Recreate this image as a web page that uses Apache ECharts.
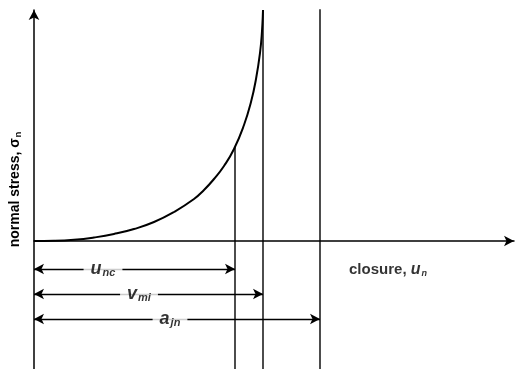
<!DOCTYPE html>
<html>
<head>
<meta charset="utf-8">
<script src="https://cdn.jsdelivr.net/npm/echarts@6/dist/echarts.min.js"></script>
<style>
    * { margin: 0; padding: 0; }
    html, body { background: #fff; }
</style>
</head>
<body>
<!--图表容器-->
<div id="closureChart" style="width: 515px;height: 369px;"></div>
<script>
    // closure u (abscissa) and normal stress (ordinate), schematic units
    var curveU     = [0, 20, 40, 60, 80, 100, 120, 140, 160, 170, 180, 190, 200, 210, 217, 222, 226, 228, 229];
    var curveSigma = [0, 0.2, 1.2, 3.5, 7, 12, 19, 29, 42, 51, 62, 75, 92, 116, 139, 162, 188, 210, 231];

    var uNc = 201, vMi = 229, aJn = 286;   // vertical reference lines
    var vertTops = [94, 231, 233];
    var dimNames  = ['nc', 'mi', 'jn'];
    var dimMain   = ['u', 'v', 'a'];
    var dimEnds   = [uNc, vMi, aJn];
    var dimLevels = [-28, -53, -78];
    var dimLabelU = [69, 105, 136];

    var axisMin = -128, axisMax = 231;

    var chart = echarts.init(document.getElementById('closureChart'));

    var curveData = curveU.map(function (u, i) { return [u, curveSigma[i]]; });

    var vertSeries = dimEnds.map(function (u, i) {
        return {
            type: 'line',
            data: [[u, axisMin], [u, vertTops[i]]],
            symbol: 'none',
            lineStyle: { color: '#000', width: 1.4 },
            z: 3
        };
    });

    var dimLines = dimEnds.map(function (u, i) {
        return [{ coord: [0, dimLevels[i]] }, { coord: [u, dimLevels[i]] }];
    });

    var dimLabels = dimEnds.map(function (u, i) {
        return {
            value: [dimLabelU[i], dimLevels[i]],
            label: {
                show: true,
                formatter: '{m|' + dimMain[i] + '}{s|' + dimNames[i] + '}'
            }
        };
    });

    chart.setOption({
        animation: false,
        grid: { left: 34, right: 1, top: 10, bottom: 0 },
        xAxis: {
            type: 'value',
            min: 0,
            max: 480,
            axisLine: {
                onZero: true,
                symbol: ['none', 'arrow'],
                symbolSize: [8, 10],
                lineStyle: { color: '#000', width: 1.5 }
            },
            axisTick: { show: false },
            axisLabel: { show: false },
            splitLine: { show: false }
        },
        yAxis: {
            type: 'value',
            min: axisMin,
            max: axisMax,
            name: '{a|normal stress, σ}{b|n}',
            nameLocation: 'middle',
            nameRotate: 90,
            nameGap: 11,
            nameTextStyle: {
                rich: {
                    a: { fontFamily: 'Liberation Sans', fontWeight: 'bold', fontSize: 14, color: '#000' },
                    b: { fontFamily: 'Liberation Sans', fontWeight: 'bold', fontSize: 9, color: '#000', padding: [6, 0, 0, 1] }
                }
            },
            axisLine: {
                symbol: ['none', 'arrow'],
                symbolSize: [8, 10],
                lineStyle: { color: '#000', width: 1.5 }
            },
            axisTick: { show: false },
            axisLabel: { show: false },
            splitLine: { show: false }
        },
        series: [
            {
                type: 'line',
                data: curveData,
                smooth: 0.5,
                symbol: 'none',
                lineStyle: { color: '#000', width: 2 },
                z: 4
            }
        ].concat(vertSeries).concat([
            {
                type: 'scatter',
                data: [],
                markLine: {
                    silent: true,
                    symbol: ['arrow', 'arrow'],
                    symbolSize: [8, 10],
                    label: { show: false },
                    lineStyle: { color: '#000', width: 1.4, type: 'solid' },
                    data: dimLines
                },
                z: 5
            },
            {
                type: 'scatter',
                symbolSize: 0,
                data: dimLabels,
                label: {
                    position: 'inside',
                    backgroundColor: '#fff',
                    padding: [0, 7, 0, 7],
                    rich: {
                        m: { fontFamily: 'Liberation Sans', fontWeight: 'bold', fontStyle: 'italic', fontSize: 18, color: '#000' },
                        s: { fontFamily: 'Liberation Sans', fontWeight: 'bold', fontStyle: 'italic', fontSize: 11, color: '#000', padding: [8, 0, 0, 1] }
                    }
                },
                z: 6
            },
            {
                type: 'scatter',
                symbolSize: 0,
                data: [[354, -29]],
                label: {
                    show: true,
                    position: 'inside',
                    formatter: '{a|closure, }{m|u}{s|n}',
                    rich: {
                        a: { fontFamily: 'Liberation Sans', fontWeight: 'bold', fontSize: 15, color: '#000' },
                        m: { fontFamily: 'Liberation Sans', fontWeight: 'bold', fontStyle: 'italic', fontSize: 16, color: '#000' },
                        s: { fontFamily: 'Liberation Sans', fontWeight: 'bold', fontStyle: 'italic', fontSize: 9, color: '#000', padding: [7, 0, 0, 1] }
                    }
                },
                z: 6
            }
        ])
    });
</script>
</body>
</html>
